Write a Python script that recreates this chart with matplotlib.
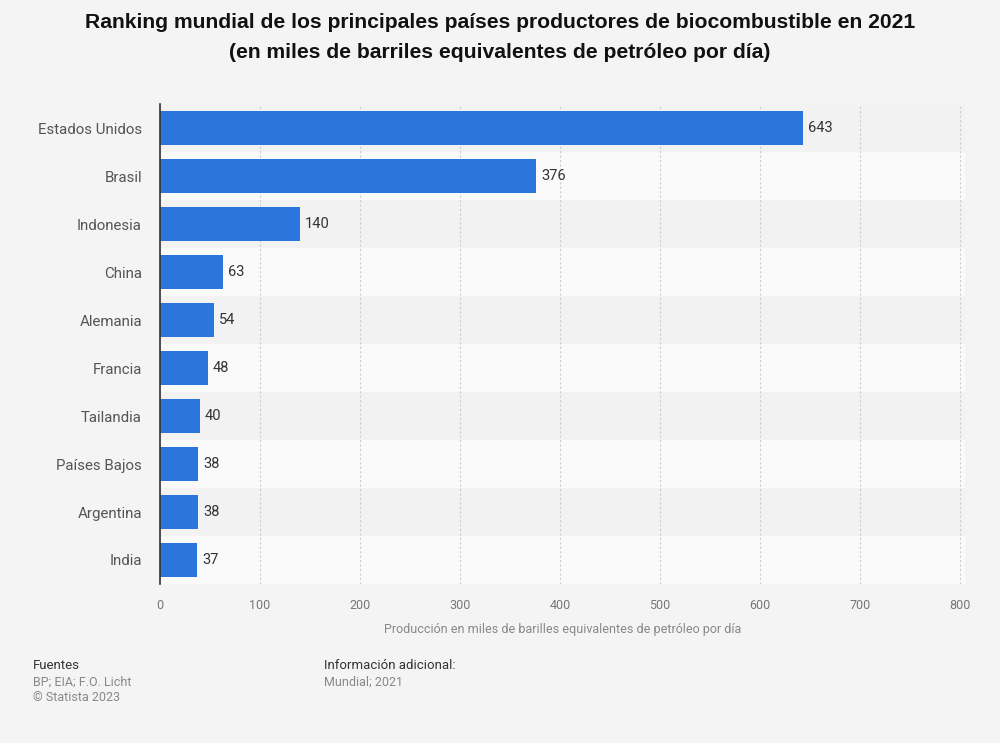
#!/usr/bin/env python3
# plot.py - biofuel producers ranking 2021 (horizontal bars)

import matplotlib.pyplot as plt

plt.rcParams['font.family'] = ['Roboto', 'DejaVu Sans']

countries = ["Estados Unidos", "Brasil", "Indonesia", "China", "Alemania",
             "Francia", "Tailandia", "Países Bajos", "Argentina", "India"]
values = [643, 376, 140, 63, 54, 48, 40, 38, 38, 37]
xticks = [0, 100, 200, 300, 400, 500, 600, 700, 800]

bg = "#f4f4f4"
barColor = "#2a76dd"

fig = plt.figure(figsize=(10, 7.43), dpi=100, facecolor=bg)
ax = fig.add_axes([0.16, 0.214, 0.805, 0.646])
ax.set_facecolor(bg)

ypos = list(range(len(countries)))

# alternating row bands
for i in ypos:
    ax.axhspan(i - 0.5, i + 0.5, color="#f2f2f2" if i % 2 == 0 else "#fafafa", zorder=0, lw=0)

ax.barh(ypos, values, height=0.7, color=barColor, zorder=3)
for y, v in zip(ypos, values):
    ax.text(v + 5, y, str(v), va="center", ha="left", fontsize=10.5, color="#333333", zorder=4)

ax.set_ylim(len(countries) - 0.5, -0.5)
ax.set_xlim(0, 805)
ax.set_yticks(ypos)
ax.set_yticklabels(countries, fontsize=10.8, color="#555555")
ax.set_xticks(xticks)
ax.set_xticklabels([str(t) for t in xticks], fontsize=9, color="#777777")
ax.tick_params(axis="both", length=0)
ax.tick_params(axis="y", pad=13)
ax.tick_params(axis="x", pad=11)

ax.grid(axis="x", color="#cccccc", linestyle=(0, (2, 2)), linewidth=0.8, zorder=1)
for s in ["top", "right", "bottom"]:
    ax.spines[s].set_visible(False)
ax.spines["left"].set_color("#333333")
ax.spines["left"].set_linewidth(1.2)
ax.spines["left"].set_zorder(5)

ax.set_xlabel("Producción en miles de barilles equivalentes de petróleo por día",
              fontsize=9, color="#888888", labelpad=8)

titleFont = ['Liberation Sans', 'DejaVu Sans']
fig.text(0.5, 0.970, "Ranking mundial de los principales países productores de biocombustible en 2021",
         ha="center", va="center", fontsize=15.2, fontweight="bold", color="#111111", family=titleFont)
fig.text(0.5, 0.930, "(en miles de barriles equivalentes de petróleo por día)",
         ha="center", va="center", fontsize=15.2, fontweight="bold", color="#111111", family=titleFont)

fig.text(0.033, 0.104, "Fuentes", fontsize=9.5, color="#333333", va="center")
fig.text(0.033, 0.082, "BP; EIA; F.O. Licht", fontsize=9, color="#888888", va="center")
fig.text(0.033, 0.061, "© Statista 2023", fontsize=9, color="#888888", va="center")
fig.text(0.324, 0.104, "Información adicional:", fontsize=9.5, color="#333333", va="center")
fig.text(0.324, 0.082, "Mundial; 2021", fontsize=9, color="#888888", va="center")

fig.savefig("out.png", dpi=100, facecolor=bg)
